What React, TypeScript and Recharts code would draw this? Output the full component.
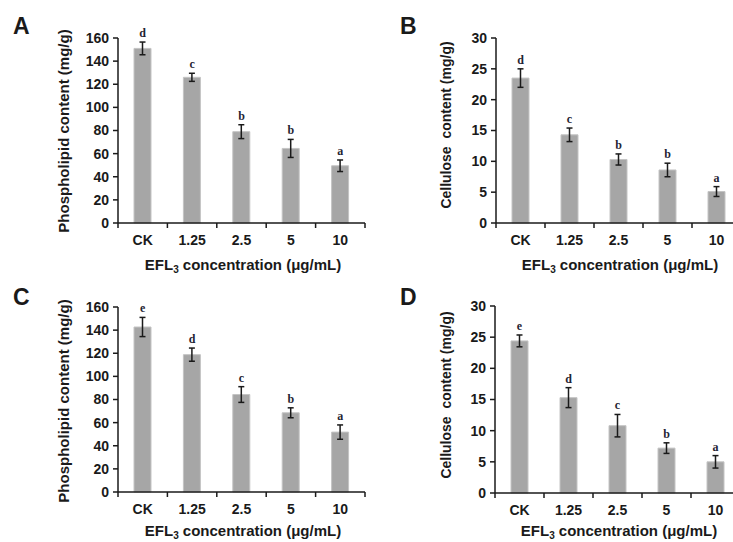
import React from "react";
import { ComposedChart, Bar, Line, XAxis, YAxis, ErrorBar, LabelList, Label } from "recharts";

const categories = ["CK", "1.25", "2.5", "5", "10"];

// A: phospholipid
const phosA = [151, 126, 79, 64.5, 49.5];
const phosAErr = [5.5, 3.5, 6, 7.8, 5];
const phosALetters = ["d", "c", "b", "b", "a"];

// B: cellulose
const celB = [23.5, 14.3, 10.3, 8.6, 5.1];
const celBErr = [1.5, 1.1, 0.9, 1.1, 0.8];
const celBLetters = ["d", "c", "b", "b", "a"];

// C: phospholipid
const phosC = [142.7, 118.8, 84.3, 68.5, 51.8];
const phosCErr = [8.3, 5.7, 6.8, 4.3, 6.2];
const phosCLetters = ["e", "d", "c", "b", "a"];

// D: cellulose
const celD = [24.4, 15.3, 10.8, 7.2, 5.0];
const celDErr = [0.95, 1.6, 1.8, 0.85, 1.0];
const celDLetters = ["e", "d", "c", "b", "a"];

const phosTicks = [0, 20, 40, 60, 80, 100, 120, 140, 160];
const celTicks = [0, 5, 10, 15, 20, 25, 30];

const FONT = '"Liberation Sans", Arial, sans-serif';
const INK = "#1a1a1a";

function buildRows(values: number[], errs: number[], letters: string[]) {
  return categories.map((cat, i) => ({
    cat,
    value: values[i],
    err: errs[i],
    top: values[i] + errs[i],
    letter: letters[i],
  }));
}

const panels = [
  {
    id: "A", left: 0, top: 0, plotLeft: 118, plotTop: 38, plotW: 247, plotH: 185,
    rows: buildRows(phosA, phosAErr, phosALetters), ticks: phosTicks,
    yLabel: "Phospholipid content (mg/g)", yLabelX: 63, yLabelY: 131, yLabelSize: 15,
    xLabelX: 243, xLabelDy: 47, letterX: 13,
  },
  {
    id: "B", left: 370, top: 0, plotLeft: 126, plotTop: 38, plotW: 245, plotH: 185,
    rows: buildRows(celB, celBErr, celBLetters), ticks: celTicks,
    yLabel: "Cellulose  content (mg/g)", yLabelX: 76, yLabelY: 125, yLabelSize: 14,
    xLabelX: 250, xLabelDy: 47, letterX: 30,
  },
  {
    id: "C", left: 0, top: 271, plotLeft: 118, plotTop: 36, plotW: 247, plotH: 185,
    rows: buildRows(phosC, phosCErr, phosCLetters), ticks: phosTicks,
    yLabel: "Phospholipid content (mg/g)", yLabelX: 63, yLabelY: 130, yLabelSize: 15,
    xLabelX: 243, xLabelDy: 44, letterX: 13,
  },
  {
    id: "D", left: 370, top: 271, plotLeft: 125, plotTop: 35, plotW: 245, plotH: 187,
    rows: buildRows(celD, celDErr, celDLetters), ticks: celTicks,
    yLabel: "Cellulose  content (mg/g)", yLabelX: 76, yLabelY: 124, yLabelSize: 14,
    xLabelX: 249, xLabelDy: 43, letterX: 30,
  },
];

function Panel({ p }: { p: (typeof panels)[number] }) {
  const band = p.plotW / categories.length;
  const width = p.plotLeft + p.plotW + 6;
  const height = p.plotTop + p.plotH + 62;
  const axisY = p.plotTop + p.plotH;

  const renderTick = (props: any) => {
    const { x, y, payload, index } = props;
    const half = band / 2;
    return (
      <g>
        <line x1={x - half} x2={x - half} y1={y} y2={y + 5} stroke={INK} strokeWidth={1.5} />
        {index === categories.length - 1 && (
          <line x1={x + half} x2={x + half} y1={y} y2={y + 5} stroke={INK} strokeWidth={1.5} />
        )}
        <text x={x} y={y + 22} textAnchor="middle" fontFamily={FONT} fontWeight="bold" fontSize={14} fill={INK}>
          {payload.value}
        </text>
      </g>
    );
  };

  return (
    <div style={{ position: "absolute", left: p.left, top: p.top, width, height }}>
      <div
        style={{
          position: "absolute", left: p.letterX, top: 13, fontFamily: FONT,
          fontWeight: "bold", fontSize: 23, color: INK, lineHeight: "26px",
        }}
      >
        {p.id}
      </div>
      <ComposedChart
        width={width}
        height={height}
        data={p.rows}
        margin={{ top: p.plotTop, right: 6, left: 0, bottom: 0 }}
      >
        <XAxis
          dataKey="cat"
          type="category"
          height={62}
          tickLine={false}
          tickSize={0}
          tickMargin={0}
          axisLine={{ stroke: INK, strokeWidth: 1.5 }}
          tick={renderTick}
          interval={0}
        >
          <Label
            content={() => (
              <text x={p.xLabelX} y={axisY + p.xLabelDy} textAnchor="middle" fontFamily={FONT} fontWeight="bold" fontSize={15} fill={INK}>
                EFL<tspan fontSize={10} dy={3}>3</tspan>
                <tspan dy={-3}> concentration (μg/mL)</tspan>
              </text>
            )}
          />
        </XAxis>
        <YAxis
          type="number"
          domain={[0, p.ticks[p.ticks.length - 1]]}
          ticks={p.ticks}
          width={p.plotLeft}
          tickSize={5}
          tickMargin={4}
          interval={0}
          tickLine={{ stroke: INK, strokeWidth: 1.5 }}
          axisLine={{ stroke: INK, strokeWidth: 1.5 }}
          tick={{ fontFamily: FONT, fontWeight: "bold", fontSize: 14, fill: INK }}
        >
          <Label
            content={() => (
              <text
                x={p.yLabelX}
                y={p.yLabelY}
                transform={`rotate(-90 ${p.yLabelX} ${p.yLabelY})`}
                textAnchor="middle"
                dominantBaseline="central"
                fontFamily={FONT}
                fontWeight="bold"
                fontSize={p.yLabelSize}
                fill={INK}
                style={{ whiteSpace: "pre" }}
              >
                {p.yLabel}
              </text>
            )}
          />
        </YAxis>
        <Bar dataKey="value" fill="#a6a6a6" stroke="#c4c4c4" strokeWidth={1} barSize={17} isAnimationActive={false}>
          <ErrorBar dataKey="err" width={3} stroke={INK} strokeWidth={1.5} direction="y" />
        </Bar>
        <Line
          dataKey="top"
          stroke="none"
          dot={false}
          activeDot={false}
          isAnimationActive={false}
          legendType="none"
        >
          <LabelList
            dataKey="letter"
            position="top"
            offset={5}
            fontFamily='"Liberation Serif", "Times New Roman", serif'
            fontWeight="bold"
            fontSize={12}
            fill="#1f2433"
          />
        </Line>
      </ComposedChart>
    </div>
  );
}

export default function App() {
  return (
    <div
      style={{
        position: "fixed", left: 0, top: 0, width: 733, height: 542,
        overflow: "hidden", background: "#ffffff",
      }}
    >
      {panels.map((p) => (
        <Panel key={p.id} p={p} />
      ))}
    </div>
  );
}
